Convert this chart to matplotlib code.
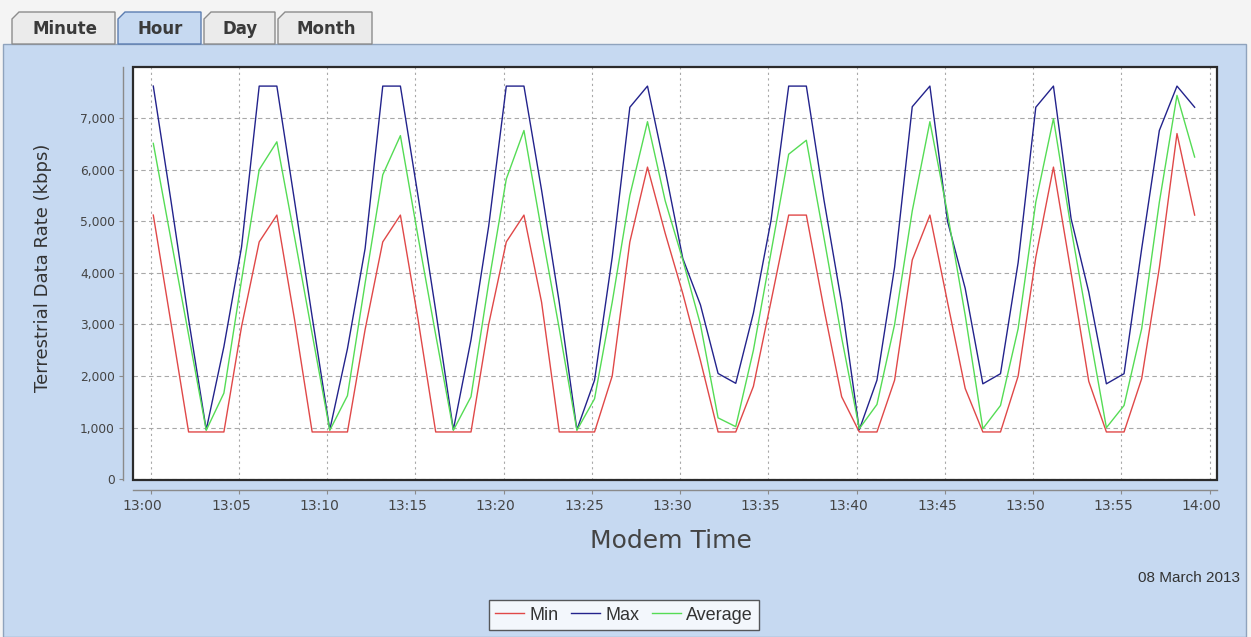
import matplotlib
matplotlib.use("Agg")
import matplotlib.pyplot as plt
import matplotlib.dates as mdates
import matplotlib.patches as mpatches
from matplotlib.ticker import FuncFormatter, MultipleLocator
from matplotlib.transforms import ScaledTranslation
import pandas as pd

# Data: one sample per minute, kbps
start_time = "2013-03-08 13:00:09"
min_kbps = [5120, 3030, 917, 917, 917, 2960, 4600, 5120, 3100, 917,
            917, 917, 2900, 4600, 5120, 3100, 917, 917, 917, 3000,
            4600, 5120, 3430, 917, 917, 917, 2000, 4600, 6050, 4770,
            3600, 2300, 917, 917, 1800, 3450, 5120, 5120, 3300, 1600,
            917, 917, 1920, 4250, 5120, 3430, 1760, 917, 917, 2000,
            4300, 6050, 4000, 1900, 917, 917, 1950, 4100, 6700, 5120]
max_kbps = [7620, 5400, 3100, 960, 2570, 4500, 7620, 7620, 5400, 3150,
            960, 2530, 4470, 7620, 7620, 5490, 3270, 960, 2700, 4900,
            7620, 7620, 5600, 3430, 960, 1920, 4300, 7210, 7620, 6000,
            4280, 3380, 2050, 1860, 3220, 5020, 7620, 7620, 5410, 3415,
            960, 1920, 4110, 7220, 7620, 5000, 3700, 1850, 2046, 4200,
            7210, 7620, 5050, 3630, 1850, 2046, 4470, 6760, 7620, 7210]
avg_kbps = [6510, 4650, 2800, 950, 1670, 3860, 6000, 6540, 4700, 2820,
            950, 1620, 3800, 5900, 6660, 4700, 2800, 950, 1600, 3800,
            5820, 6760, 4810, 2920, 950, 1560, 3430, 5500, 6930, 5400,
            4250, 3000, 1190, 1020, 2500, 4400, 6300, 6570, 4680, 2745,
            980, 1450, 3000, 5200, 6930, 5150, 3180, 980, 1430, 2920,
            5370, 6990, 4860, 2920, 1000, 1430, 2920, 5370, 7440, 6245]
series_names = ["Min", "Max", "Average"]
series_colors = ["#e04848", "#23238c", "#55dc55"]
tabs = ["Minute", "Hour", "Day", "Month"]
tab_edges = [(12, 115), (118, 201), (204, 275), (278, 372)]
selected_tab = "Hour"
date_text = "08 March 2013"

times = pd.date_range(start_time, periods=len(min_kbps), freq="min")

W, H = 1251, 637
panel_color = "#c6d9f1"


def fx(x):
    return x / W


def fy(y):
    return 1 - y / H


fig = plt.figure(figsize=(W / 100, H / 100), dpi=100, facecolor="#f4f4f4")

# blue panel under the tabs
fig.patches.append(mpatches.Rectangle((fx(3), fy(637)), fx(1246) - fx(3), fy(44) - fy(637),
                                      transform=fig.transFigure, facecolor=panel_color,
                                      edgecolor="#8fa3bd", lw=1, zorder=-10))

# tabs
for name, (x0, x1) in zip(tabs, tab_edges):
    sel = name == selected_tab
    pts = [(fx(x0), fy(44)), (fx(x0), fy(19)), (fx(x0 + 7), fy(12)), (fx(x1), fy(12)), (fx(x1), fy(44))]
    fig.patches.append(mpatches.Polygon(pts, closed=True, transform=fig.transFigure,
                                        facecolor=panel_color if sel else "#ebebeb",
                                        edgecolor="#5b7db1" if sel else "#8c8c8c", lw=1, zorder=-5))
    fig.text(fx((x0 + x1) / 2 + 1), fy(29), name, ha="center", va="center",
             fontsize=12, fontweight="bold", color="#3a3a3a", family="DejaVu Sans")

ax = fig.add_axes([fx(133), fy(480), fx(1217) - fx(133), fy(67) - fy(480)])
ax.set_facecolor("white")

for vals, name, col in zip([min_kbps, max_kbps, avg_kbps], series_names, series_colors):
    ax.plot(times, vals, color=col, lw=1.0, label=name)

ax.set_xlim(pd.Timestamp("2013-03-08 12:59:00"), pd.Timestamp("2013-03-08 14:00:25"))
ax.set_ylim(-14, 7990)

ax.xaxis.set_major_locator(mdates.MinuteLocator(byminute=range(0, 60, 5)))
ax.xaxis.set_major_formatter(mdates.DateFormatter("%H:%M"))
ax.yaxis.set_major_locator(MultipleLocator(1000))
ax.yaxis.set_major_formatter(FuncFormatter(lambda v, p: f"{v:,.0f}"))

ax.xaxis.grid(True, linestyle=(0, (2, 3)), color="#a8a8a8", lw=0.8)
ax.yaxis.grid(True, linestyle=(0, (4, 3)), color="#a8a8a8", lw=0.8)

for s in ["top", "right"]:
    ax.spines[s].set_visible(False)
ax.spines["left"].set_position(("outward", 7))
ax.spines["bottom"].set_position(("outward", 7))
for s in ["left", "bottom"]:
    ax.spines[s].set_color("#8a8a8a")
    ax.spines[s].set_linewidth(1.0)
ax.add_patch(mpatches.Rectangle((0, 0), 1, 1, transform=ax.transAxes, fill=False,
                                edgecolor="#2b2b2b", lw=1.6, clip_on=False, zorder=5))

ax.tick_params(axis="x", length=3, color="#8a8a8a", labelsize=10, labelcolor="#444444", pad=4)
ax.tick_params(axis="y", length=3, color="#8a8a8a", labelsize=8.8, labelcolor="#444444", pad=3)

# time labels sit a little left of their grid lines in the original
shift = ScaledTranslation(-8 / 100, 0, fig.dpi_scale_trans)
for lbl in ax.get_xticklabels():
    lbl.set_transform(lbl.get_transform() + shift)

fig.text(fx(43), fy(268), "Terrestrial Data Rate (kbps)", rotation=90, ha="center", va="center",
         fontsize=13, color="#333333")
fig.text(fx(671), fy(541), "Modem Time", ha="center", va="center", fontsize=18, color="#444444")
fig.text(fx(1240), fy(578), date_text, ha="right", va="center", fontsize=11,
         color="#333333", family="Liberation Sans")

leg = ax.legend(loc="center", bbox_to_anchor=(fx(624), fy(615)), bbox_transform=fig.transFigure,
                ncol=3, frameon=True, fancybox=False, handlelength=1.6, handletextpad=0.3,
                columnspacing=0.7, borderpad=0.35, prop={"family": "Liberation Sans", "size": 13})
leg.get_frame().set_edgecolor("#333333")
leg.get_frame().set_linewidth(1.0)
for t in leg.get_texts():
    t.set_color("#333333")

fig.savefig("out.png", dpi=100, facecolor=fig.get_facecolor())
